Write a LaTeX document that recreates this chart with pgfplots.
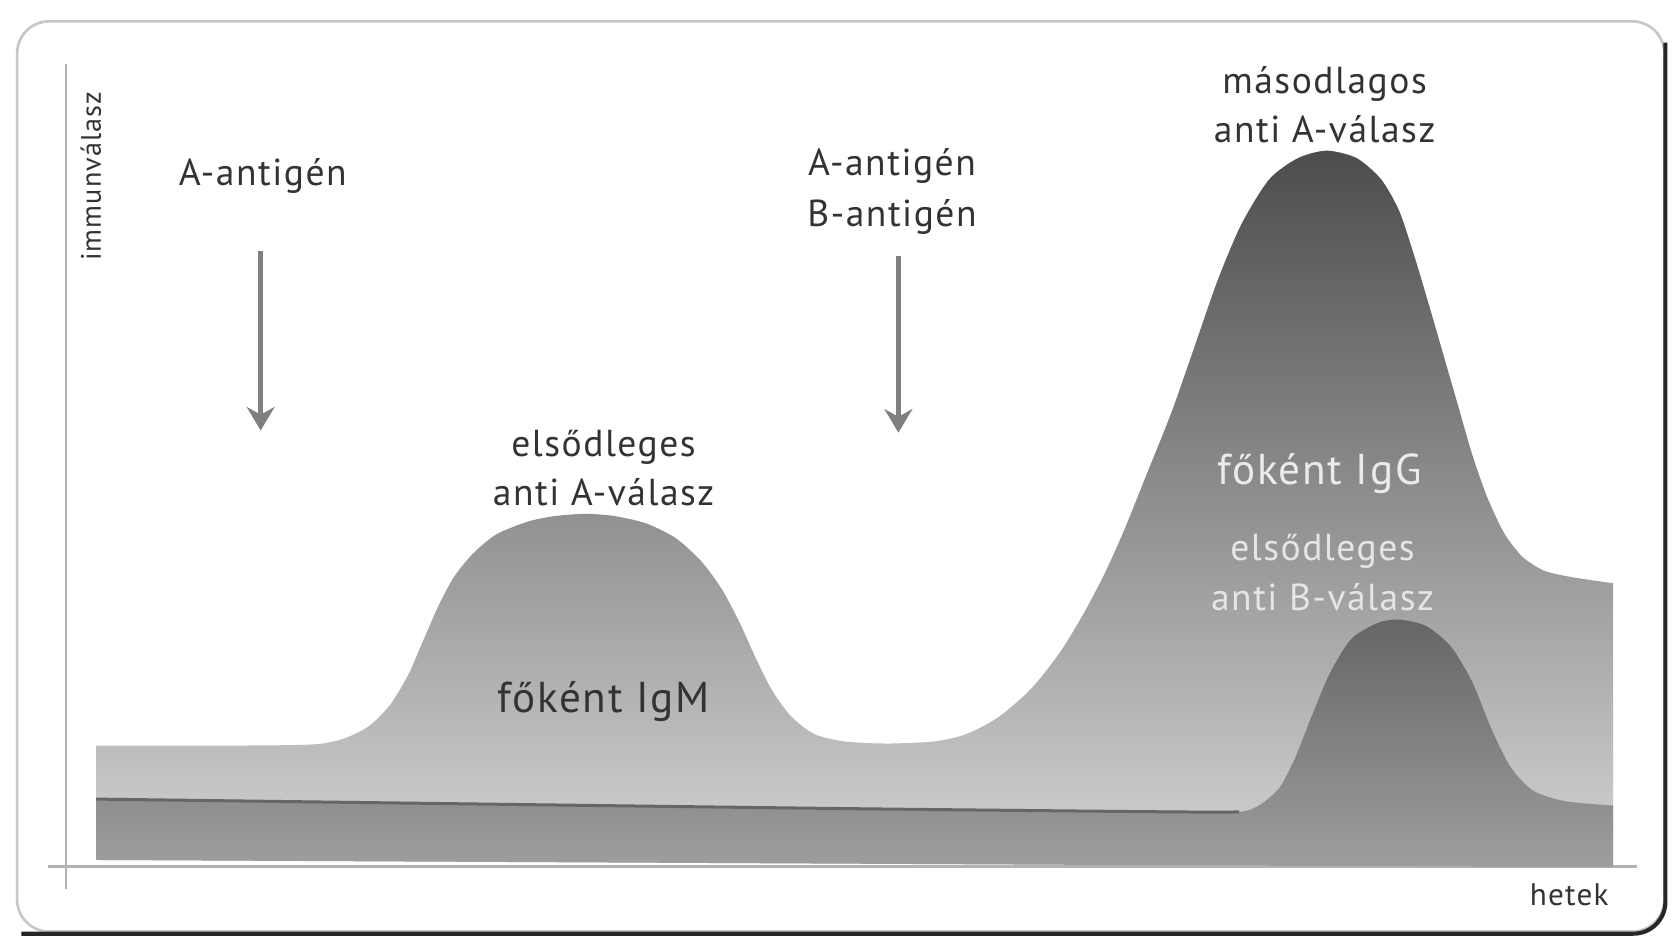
\documentclass[border=0pt]{standalone}
\usepackage{pgfplots}
\pgfplotsset{compat=1.18}
\usetikzlibrary{arrows.meta}
\usepackage{fontspec}
\setmainfont{PT Sans}
\newfontfamily\lab[LetterSpace=4]{PT Sans}
\definecolor{txt}{HTML}{333333}
\begin{document}
\begin{tikzpicture}
\begin{axis}[
  scale only axis, width=15.68cm, height=8.84cm,
  xmin=0, xmax=1568, ymin=0, ymax=884, y dir=reverse,
  hide axis, clip=false,
]
\path (0,0) rectangle (1568,884);
\fill[white] (0,0) rectangle (1568,884);
% frame
\draw[black!22, line width=0.7pt, rounded corners=3mm] (16,20) rectangle (1558,872);
\draw[black!85, line width=1.1pt, rounded corners=3mm] (1559,40) -- (1559,874) -- (20,874);
% axis lines
\draw[black!30, line width=0.45pt] (62,60) -- (62,832);
\draw[black!30, line width=0.9pt] (45,811) -- (1532,811);

% main response area (IgM primary, IgG secondary)
\addplot[draw=none, shade, top color=black!70, bottom color=black!17, smooth, tension=0.45] coordinates {
(90,698) (200,698) (290,697) (320,692) (345,680) (365,660) (382,632) (396,600) (410,568) (425,540) (443,518) (465,500) (495,488) (520,483) (548,481) (575,483) (605,490) (633,504) (657,526) (676,552) (692,582) (707,615) (722,645) (740,670) (762,687) (790,694) (830,696) (875,694) (905,687) (935,671) (965,645) (992,611) (1014,575) (1034,537) (1052,497) (1075,440) (1097,385) (1118,325) (1140,262) (1162,210) (1188,168) (1215,148) (1242,141) (1270,148) (1293,168) (1310,198) (1325,243) (1339,290) (1352,335) (1365,380) (1378,425) (1392,465) (1408,499) (1425,521) (1445,534) (1470,540) (1510,546)
} -- (1510,812) -- (90,805) -- cycle;

% lower band with primary anti-B response
\addplot[draw=none, shade, top color=black!60, bottom color=black!38, smooth, tension=0.45] coordinates {
(90,748) (400,752) (800,757) (1100,760) (1160,760) (1180,753) (1198,737) (1213,708) (1228,670) (1245,630) (1265,598) (1290,583) (1310,580) (1335,586) (1358,605) (1378,638) (1396,682) (1414,718) (1435,740) (1465,750) (1510,754)
} -- (1510,812) -- (90,805) -- cycle;
\addplot[black!60, line width=0.8pt, smooth] coordinates {(90,748) (400,752) (800,757) (1100,760) (1160,760)};

% arrows
\draw[black!50, line width=1.2pt, -{Stealth[length=2.2mm, width=2.6mm]}] (244,235) -- (244,403);
\draw[black!50, line width=1.2pt, -{Stealth[length=2.2mm, width=2.6mm]}] (841,240) -- (841,405);

% labels
\node[rotate=90, text=txt, font=\lab\fontsize{7.5}{9}\selectfont] at (85,165) {immunválasz};
\node[text=txt, font=\lab\fontsize{10}{12}\selectfont] at (246,165) {A-antigén};
\node[text=txt, font=\lab\fontsize{10}{12}\selectfont, align=center] at (835,179) {A-antigén\\[0.6mm]B-antigén};
\node[text=txt, font=\lab\fontsize{10}{12}\selectfont, align=center] at (565,438) {elsődleges\\[0.4mm]anti A-válasz};
\node[text=txt, font=\lab\fontsize{10}{12}\selectfont, align=center] at (1240,98) {másodlagos\\[0.4mm]anti A-válasz};
\node[text=black!80, font=\lab\fontsize{11.5}{13}\selectfont] at (565,657) {főként IgM};
\node[text=white!92!black, font=\lab\fontsize{11.5}{13}\selectfont] at (1235,443) {főként IgG};
\node[text=white!90!black, font=\lab\fontsize{10}{12}\selectfont, align=center] at (1238,536) {elsődleges\\[0.4mm]anti B-válasz};
\node[text=txt, font=\lab\fontsize{8.3}{10}\selectfont] at (1469,838) {hetek};
\end{axis}
\end{tikzpicture}
\end{document}
